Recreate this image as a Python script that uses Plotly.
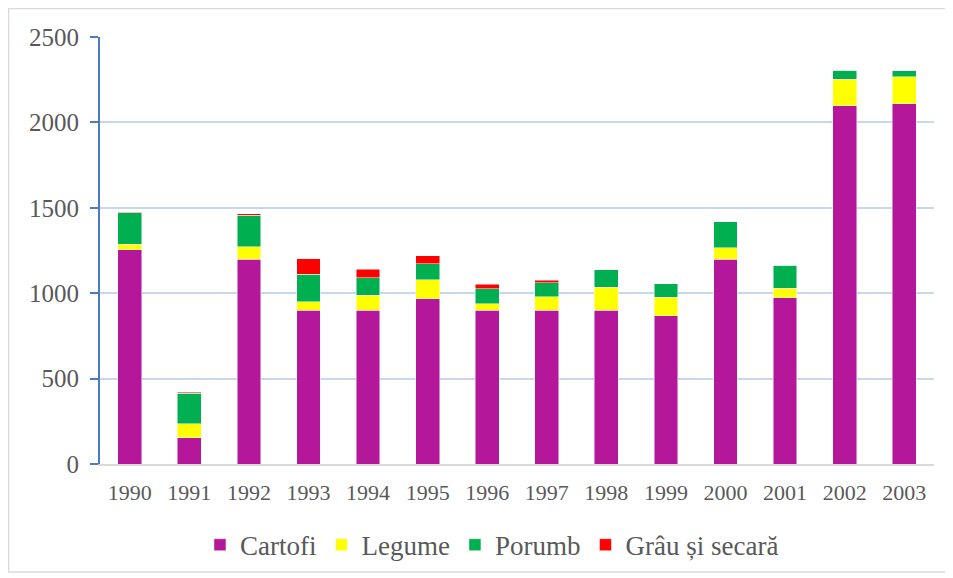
import plotly.graph_objects as go

years = ["1990", "1991", "1992", "1993", "1994", "1995", "1996", "1997",
         "1998", "1999", "2000", "2001", "2002", "2003"]
cartofi = [1255, 155, 1200, 900, 900, 968, 900, 900, 900, 868, 1200, 974, 2098, 2110]
legume = [33, 80, 72, 50, 88, 111, 38, 78, 136, 108, 67, 55, 154, 158]
porumb = [182, 180, 184, 162, 103, 92, 88, 84, 102, 80, 150, 136, 53, 33]
grau = [5, 6, 8, 90, 49, 49, 26, 13, 0, 0, 0, 0, 0, 0]

series = [
    ("Cartofi", cartofi, "#b5179b"),
    ("Legume", legume, "#ffff00"),
    ("Porumb", porumb, "#00b050"),
    ("Grâu și secară", grau, "#ff0000"),
]

fig = go.Figure()
for name, vals, col in series:
    fig.add_trace(go.Bar(
        x=years, y=vals, name=name,
        marker=dict(color=col, line=dict(color="rgba(255,255,255,0.6)", width=0.8)),
    ))

font_family = "Liberation Serif, DejaVu Serif, serif"

fig.update_layout(
    barmode="stack",
    bargap=0.6,
    width=945, height=570,
    margin=dict(l=92, r=19, t=29, b=114, autoexpand=False),
    paper_bgcolor="white",
    plot_bgcolor="white",
    font=dict(family=font_family, size=22, color="#595959"),
    showlegend=True,
    legend=dict(
        orientation="h", x=0.47, xanchor="center", y=-0.19, yanchor="middle",
        font=dict(size=27, color="#595959"), traceorder="normal",
        itemwidth=30,
    ),
    xaxis=dict(
        showgrid=False, showline=True, linecolor="#d9d9d9", linewidth=2,
        ticks="", tickfont=dict(size=22, color="#595959"),
        ticklabelstandoff=8, automargin=False,
    ),
    yaxis=dict(
        range=[0, 2500], tickvals=[0, 500, 1000, 1500, 2000, 2500],
        showgrid=True, gridcolor="#c9d7ec", gridwidth=1.5,
        showline=True, linecolor="#4a7ebb", linewidth=2,
        ticks="outside", ticklen=8, tickcolor="#4a7ebb", tickwidth=2,
        tickfont=dict(size=25, color="#595959"), zeroline=False,
        ticklabelstandoff=6, automargin=False,
    ),
    shapes=[dict(
        type="rect", xref="paper", yref="paper",
        x0=-0.1097, x1=1.0168, y0=-0.2529, y1=1.0667,
        line=dict(color="#d9d9d9", width=1.5), fillcolor="rgba(0,0,0,0)",
    )],
)

fig.write_html("out.html")
